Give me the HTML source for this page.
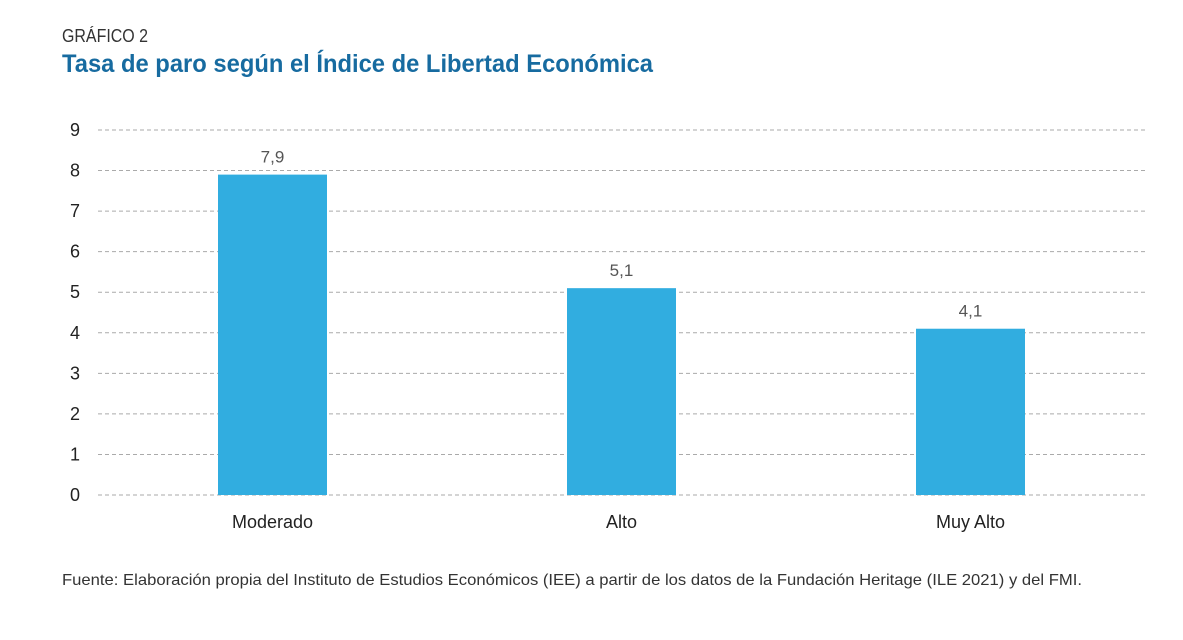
<!DOCTYPE html>
<html><head><meta charset="utf-8"><style>
html,body{margin:0;padding:0;background:#fff;}
svg{display:block;font-family:"Liberation Sans",sans-serif;}
</style></head><body>
<svg id="chart" width="1183" height="640" viewBox="0 0 1183 640" xmlns="http://www.w3.org/2000/svg">
<text x="62" y="42" font-size="18" fill="#333" textLength="86" lengthAdjust="spacingAndGlyphs">GRÁFICO 2</text>
<text x="62" y="72" font-size="25" font-weight="bold" fill="#176ba0" textLength="591" lengthAdjust="spacingAndGlyphs">Tasa de paro según el Índice de Libertad Económica</text>
<g id="grid"></g>
<g id="yticks"></g>
<g id="bars"></g>
<g id="xlabels"></g>
<text x="62" y="585" font-size="16" fill="#333" textLength="1020" lengthAdjust="spacingAndGlyphs">Fuente: Elaboración propia del Instituto de Estudios Económicos (IEE) a partir de los datos de la Fundación Heritage (ILE 2021) y del FMI.</text>
</svg>
<script>
const categories = ["Moderado", "Alto", "Muy Alto"];
const values = [7.9, 5.1, 4.1];
const valueLabels = ["7,9", "5,1", "4,1"];
const yTicks = [0,1,2,3,4,5,6,7,8,9];

const NS = "http://www.w3.org/2000/svg";
const x0 = 98, x1 = 1145, yBase = 495, yTop = 130, yMax = 9;
const band = (x1 - x0) / categories.length;
const barW = 109;
function yScale(v){ return yBase - (v / yMax) * (yBase - yTop); }
function xCenter(i){ return x0 + band * (i + 0.5); }
function mk(tag, attrs, parent){
  const e = document.createElementNS(NS, tag);
  for (const k in attrs) e.setAttribute(k, attrs[k]);
  parent.appendChild(e); return e;
}
const grid = document.getElementById("grid"), yt = document.getElementById("yticks"),
      bars = document.getElementById("bars"), xl = document.getElementById("xlabels");
yTicks.forEach(t => {
  const y = yScale(t);
  const l = mk("line", {x1:x0, x2:x1, y1:y, y2:y, stroke:"#aaa", "stroke-width":1, "stroke-dasharray":"4,3"}, grid);
  
  
  const tx = mk("text", {x:75, y:y+6, "font-size":18, fill:"#222", "text-anchor":"middle"}, yt);
  tx.textContent = t;
  
  
});
categories.forEach((c, i) => {
  const cx = xCenter(i), y = yScale(values[i]);
  const r = mk("rect", {x:cx - barW/2, y:y, width:barW, height:yBase - y, fill:"#31ade0"}, bars);
  
  
  const v = mk("text", {x:cx, y:y-12, "font-size":17, fill:"#555", "text-anchor":"middle"}, bars);
  v.textContent = valueLabels[i];
  
  
  const lab = mk("text", {x:cx, y:528, "font-size":18, fill:"#222", "text-anchor":"middle"}, xl);
  lab.textContent = c;
  
  
});
</script>
</body></html>
